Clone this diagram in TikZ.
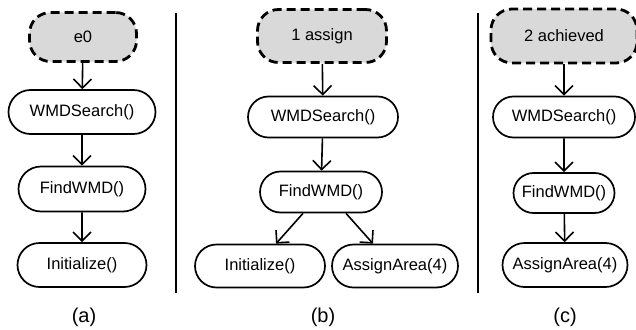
\documentclass[tikz,border=0pt]{standalone}
\usepackage{fontspec}
\setmainfont{Liberation Sans}
\usetikzlibrary{arrows.meta,shapes.misc}
\begin{document}
\begin{tikzpicture}[x=1pt,y=-1pt,
  every node/.style={font=\fontsize{16.5}{19}\selectfont},
  act/.style={rounded rectangle, draw=black, line width=1.7pt, inner sep=0pt, fill=white},
  state/.style={draw=black, line width=2.8pt, dash pattern=on 9pt off 5pt, rounded corners=21pt, inner sep=0pt, fill=black!15},
  arr/.style={line width=1.6pt, -{Straight Barb[length=9pt,width=18pt,line width=1.6pt]}},
  sep/.style={line width=2.6pt},
  sublabel/.style={font=\fontsize{20}{22}\selectfont}]
\useasboundingbox (0,0) rectangle (636,329);
% panel (a)
\node[state, minimum width=107pt, minimum height=49pt] (ae) at (83,37) {e0};
\node[act, minimum width=147pt, minimum height=44pt] (aw) at (82,112) {WMDSearch()};
\node[act, minimum width=127pt, minimum height=45pt] (af) at (82,189) {FindWMD()};
\node[act, minimum width=129pt, minimum height=44pt] (ai) at (82,265) {Initialize()};
\draw[arr] (ae) -- (aw);
\draw[arr] (aw) -- (af);
\draw[arr] (af) -- (ai);
\node[sublabel] (la) at (84,317) {(a)};
% separators
\coordinate (s1t) at (176,13); \coordinate (s1b) at (176,293);
\coordinate (s2t) at (478,13); \coordinate (s2b) at (478,293);
\draw[sep] (s1t) -- (s1b);
\draw[sep] (s2t) -- (s2b);
% panel (b)
\node[state, minimum width=129pt, minimum height=53pt] (be) at (322,36) {1 assign};
\node[act, minimum width=150pt, minimum height=41pt] (bw) at (323,117) {WMDSearch()};
\node[act, minimum width=122pt, minimum height=41pt] (bf) at (321,192) {FindWMD()};
\node[act, minimum width=130pt, minimum height=43pt] (bi) at (260,266) {Initialize()};
\node[act, minimum width=126pt, minimum height=43pt] (ba) at (395,266) {AssignArea(4)};
\draw[arr] (be) -- (bw);
\draw[arr] (bw) -- (bf);
\draw[arr] ([xshift=-18pt]bf.south) -- ([xshift=16pt]bi.north);
\draw[arr] ([xshift=25pt]bf.south) -- ([xshift=-22pt]ba.north);
\node[sublabel] (lb) at (323,317) {(b)};
% panel (c)
\node[state, minimum width=146pt, minimum height=54pt] (ce) at (564,36) {2 achieved};
\node[act, minimum width=142pt, minimum height=41pt] (cw) at (564,117) {WMDSearch()};
\node[act, minimum width=101pt, minimum height=40pt] (cf) at (564,193) {FindWMD()};
\node[act, minimum width=125pt, minimum height=44pt] (ca) at (565,265) {AssignArea(4)};
\draw[arr] (ce) -- (cw);
\draw[arr] (cw) -- (cf);
\draw[arr] (cf) -- (ca);
\node[sublabel] (lc) at (565,317) {(c)};
\end{tikzpicture}
\end{document}
